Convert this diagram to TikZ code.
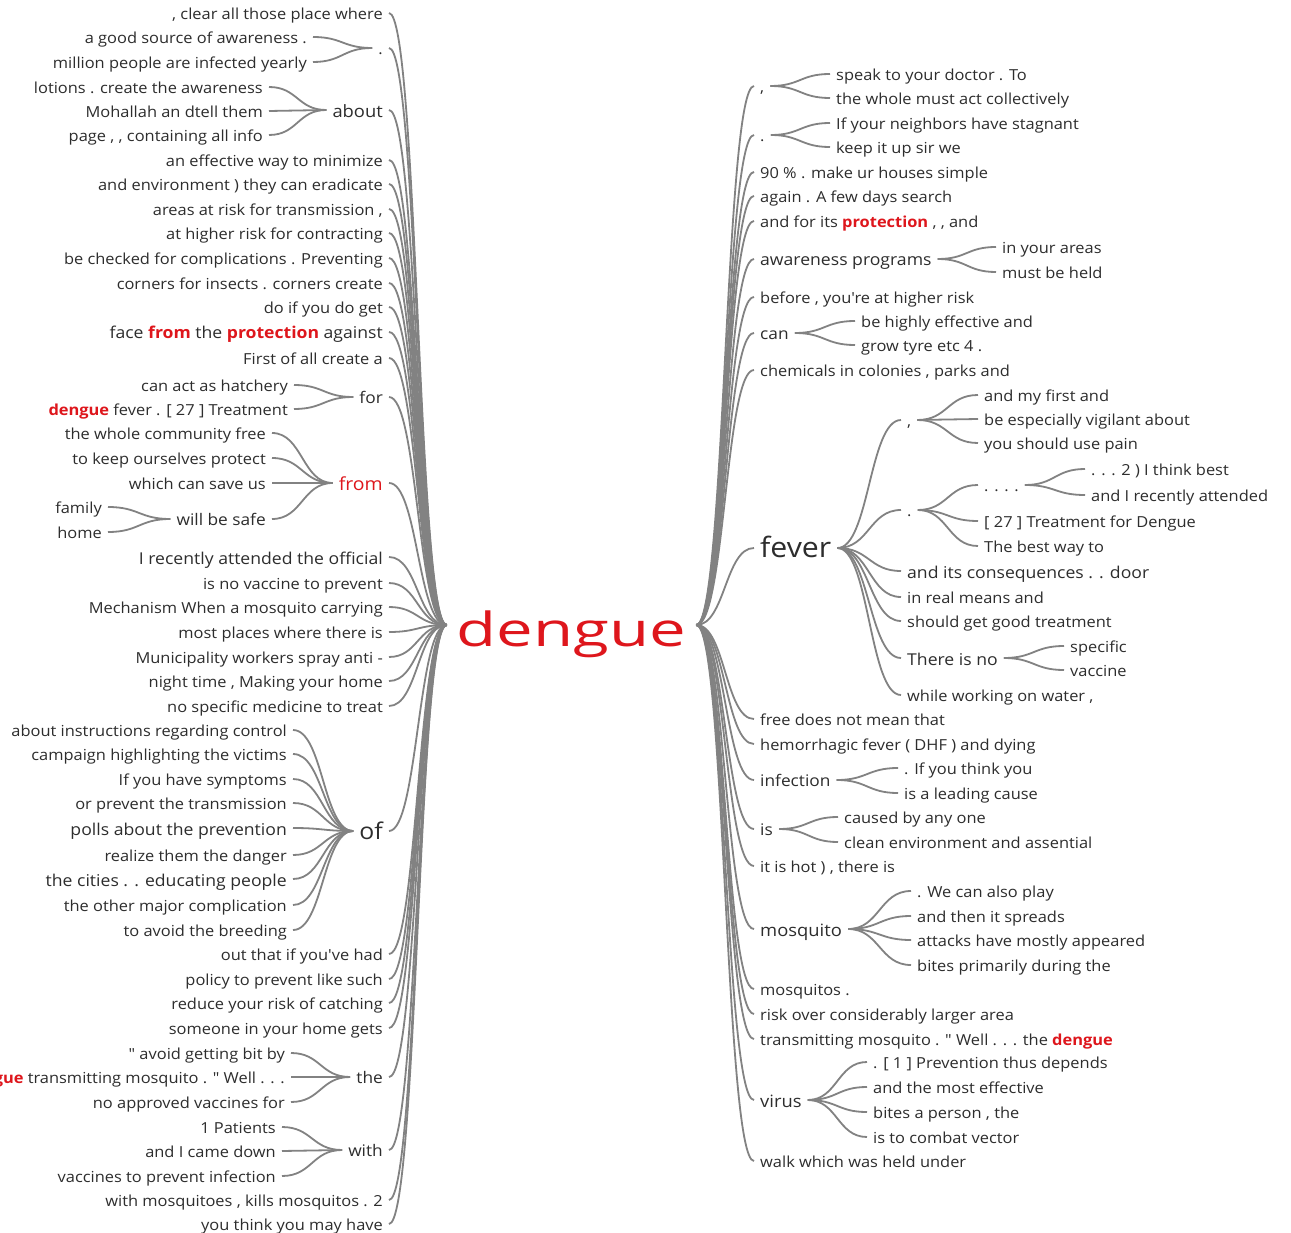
\documentclass[tikz,border=0pt]{standalone}
\usepackage{fontspec}
\usepackage{graphicx}
\usetikzlibrary{calc}
\newfontfamily\wtf{Open Sans}[FakeStretch=1.08]
\newfontfamily\wtd{Open Sans}
\definecolor{tc}{RGB}{45,45,45}
\definecolor{hr}{RGB}{222,22,28}
\definecolor{lc}{RGB}{130,130,130}
\newcommand\rb[1]{\textbf{\color{hr}#1}}
\tikzset{
  wt0/.style={text=tc, inner xsep=6pt, inner ysep=0pt, font=\wtf\fontsize{15.2}{18}\selectfont, text height=13.5pt, text depth=0pt},
  wtb/.style={wt0, font=\wtf\fontsize{16.3}{19}\selectfont, text height=14pt, text depth=0pt},
  wt16/.style={wt0, font=\wtf\fontsize{16}{19}\selectfont, text height=13.9pt, text depth=0pt},
  wt17/.style={wt0, font=\wtf\fontsize{17}{20}\selectfont, text height=14.4pt, text depth=0pt},
  wt18/.style={wt0, font=\wtf\fontsize{18}{21}\selectfont, text height=14.9pt, text depth=0pt},
  wt23/.style={wt0, font=\wtf\fontsize{23}{26}\selectfont, text height=17.3pt, text depth=0pt},
  wt28/.style={wt0, font=\wtf\fontsize{28}{31}\selectfont, text height=19.8pt, text depth=0pt},
  wl/.style={anchor=east},
  wr/.style={anchor=west},
  conn/.style={draw=lc, line width=1.8pt},
  wt/.style={to path={let \p1=(\tikztostart), \p2=(\tikztotarget) in .. controls ({0.5*\x1+0.5*\x2},\y1) and ({0.5*\x1+0.5*\x2},\y2) .. (\tikztotarget)}},
}
\begin{document}
\begin{tikzpicture}[x=1pt,y=-1pt]
\useasboundingbox (0,0) rectangle (1291,1233);
\clip (0,0) rectangle (1291,1233);
\fill[white] (0,0) rectangle (1291,1233);

% root
\node[text=hr, inner xsep=10pt, inner ysep=0pt, text height=52pt, text depth=10pt, anchor=base, font=\wtd\fontsize{47}{50}\selectfont] (dg) at (571.5,646) {\scalebox{1.39}[1]{dengue}};

% ---------------- left side ----------------
\node[wt0,wl] (l1) at (389,13) {, clear all those place where};
\node[wt0,wl] (l2) at (389,48) {.};
\node[wt0,wl] (l2a) at (313,37) {a good source of awareness .};
\node[wt0,wl] (l2b) at (313,62) {million people are infected yearly};
\node[wt17,wl] (l3) at (389,110) {about};
\node[wt0,wl] (l3a) at (269,87) {lotions . create the awareness};
\node[wt0,wl] (l3b) at (269,111) {Mohallah an dtell them};
\node[wt0,wl] (l3c) at (269,135) {page , , containing all info};
\node[wt0,wl] (l4) at (389,160) {an effective way to minimize};
\node[wt0,wl] (l5) at (389,184) {and environment ) they can eradicate};
\node[wt0,wl] (l6) at (389,209) {areas at risk for transmission ,};
\node[wt0,wl] (l7) at (389,233) {at higher risk for contracting};
\node[wt0,wl] (l8) at (389,258) {be checked for complications . Preventing};
\node[wt0,wl] (l9) at (389,283) {corners for insects . corners create};
\node[wt0,wl] (l10) at (389,307) {do if you do get};
\node[wtb,wl] (l11) at (389,332) {face \rb{from} the \rb{protection} against};
\node[wt0,wl] (l12) at (389,358) {First of all create a};
\node[wt16,wl] (l13) at (389,397) {for};
\node[wt0,wl] (l13a) at (294,385) {can act as hatchery};
\node[wt0,wl] (l13b) at (294,409) {\rb{dengue} fever . [ 27 ] Treatment};
\node[wt18,wl,text=hr] (l14) at (389,483) {from};
\node[wt0,wl] (l14a) at (272,433) {the whole community free};
\node[wt0,wl] (l14b) at (272,458) {to keep ourselves protect};
\node[wt0,wl] (l14c) at (272,483) {which can save us};
\node[wt16,wl] (l14d) at (272,519) {will be safe};
\node[wt0,wl] (l14d1) at (108,507) {family};
\node[wt0,wl] (l14d2) at (108,532) {home};
\node[wtb,wl] (l15) at (389,557) {I recently attended the official};
\node[wt0,wl] (l16) at (389,583) {is no vaccine to prevent};
\node[wt0,wl] (l17) at (389,607) {Mechanism When a mosquito carrying};
\node[wt0,wl] (l18) at (389,632) {most places where there is};
\node[wt0,wl] (l19) at (389,657) {Municipality workers spray anti -};
\node[wt0,wl] (l20) at (389,681) {night time , Making your home};
\node[wt0,wl] (l21) at (389,706) {no specific medicine to treat};
\node[wt23,wl] (l22) at (389,831) {of};
\node[wt0,wl] (l22a) at (293,730) {about instructions regarding control};
\node[wt0,wl] (l22b) at (293,754) {campaign highlighting the victims};
\node[wt0,wl] (l22c) at (293,779) {If you have symptoms};
\node[wt0,wl] (l22d) at (293,803) {or prevent the transmission};
\node[wtb,wl] (l22e) at (293,828) {polls about the prevention};
\node[wt0,wl] (l22f) at (293,855) {realize them the danger};
\node[wtb,wl] (l22g) at (293,879) {the cities . . educating people};
\node[wt0,wl] (l22h) at (293,905) {the other major complication};
\node[wt0,wl] (l22i) at (293,930) {to avoid the breeding};
\node[wt0,wl] (l23) at (389,954) {out that if you've had};
\node[wt0,wl] (l24) at (389,979) {policy to prevent like such};
\node[wt0,wl] (l25) at (389,1003) {reduce your risk of catching};
\node[wt0,wl] (l26) at (389,1028) {someone in your home gets};
\node[wt16,wl] (l27) at (389,1077) {the};
\node[wt0,wl] (l27a) at (291,1053) {" avoid getting bit by};
\node[wt0,wl] (l27b) at (291,1077) {\rb{dengue} transmitting mosquito . " Well . . .};
\node[wt0,wl] (l27c) at (291,1102) {no approved vaccines for};
\node[wt16,wl] (l28) at (389,1150) {with};
\node[wt0,wl] (l28a) at (282,1127) {1 Patients};
\node[wt0,wl] (l28b) at (282,1151) {and I came down};
\node[wt0,wl] (l28c) at (282,1176) {vaccines to prevent infection};
\node[wt0,wl] (l29) at (389,1200) {with mosquitoes , kills mosquitos . 2};
\node[wt0,wl] (l30) at (389,1224) {you think you may have};

\foreach \k in {l1,l2,l3,l4,l5,l6,l7,l8,l9,l10,l11,l12,l13,l14,l15,l16,l17,l18,l19,l20,l21,l22,l23,l24,l25,l26,l27,l28,l29,l30}
  \draw[conn] (\k.east) to[wt] (dg.west);
\foreach \k in {l2a,l2b} \draw[conn] (\k.east) to[wt] (l2.west);
\foreach \k in {l3a,l3b,l3c} \draw[conn] (\k.east) to[wt] (l3.west);
\foreach \k in {l13a,l13b} \draw[conn] (\k.east) to[wt] (l13.west);
\foreach \k in {l14a,l14b,l14c,l14d} \draw[conn] (\k.east) to[wt] (l14.west);
\foreach \k in {l14d1,l14d2} \draw[conn] (\k.east) to[wt] (l14d.west);
\foreach \k in {l22a,l22b,l22c,l22d,l22e,l22f,l22g,l22h,l22i} \draw[conn] (\k.east) to[wt] (l22.west);
\foreach \k in {l27a,l27b,l27c} \draw[conn] (\k.east) to[wt] (l27.west);
\foreach \k in {l28a,l28b,l28c} \draw[conn] (\k.east) to[wt] (l28.west);

% ---------------- right side ----------------
\node[wt0,wr] (r1) at (754,86) {,};
\node[wt0,wr] (r1a) at (830,74) {speak to your doctor . To};
\node[wt0,wr] (r1b) at (830,98) {the whole must act collectively};
\node[wt0,wr] (r2) at (754,135) {.};
\node[wt0,wr] (r2a) at (830,123) {If your neighbors have stagnant};
\node[wt0,wr] (r2b) at (830,147) {keep it up sir we};
\node[wt0,wr] (r3) at (754,172) {90 \% . make ur houses simple};
\node[wt0,wr] (r4) at (754,196) {again . A few days search};
\node[wt0,wr] (r5) at (754,221) {and for its \rb{protection} , , and};
\node[wtb,wr] (r6) at (754,259) {awareness programs};
\node[wt0,wr] (r6a) at (996,247) {in your areas};
\node[wt0,wr] (r6b) at (996,272) {must be held};
\node[wt0,wr] (r7) at (754,297) {before , you're at higher risk};
\node[wt16,wr] (r8) at (754,333) {can};
\node[wt0,wr] (r8a) at (855,321) {be highly effective and};
\node[wt0,wr] (r8b) at (855,345) {grow tyre etc 4 .};
\node[wt0,wr] (r9) at (754,370) {chemicals in colonies , parks and};
\node[wt28,wr] (r10) at (754,548) {fever};
\node[wt0,wr] (r10a) at (901,420) {,};
\node[wt0,wr] (r10a1) at (978,395) {and my first and};
\node[wt0,wr] (r10a2) at (978,419) {be especially vigilant about};
\node[wt0,wr] (r10a3) at (978,443) {you should use pain};
\node[wt0,wr] (r10b) at (901,510) {.};
\node[wt0,wr] (r10b1) at (978,485) {. . . .};
\node[wt0,wr] (r10b1a) at (1085,469) {. . . 2 ) I think best};
\node[wt0,wr] (r10b1b) at (1085,495) {and I recently attended};
\node[wt0,wr] (r10b2) at (978,521) {[ 27 ] Treatment for Dengue};
\node[wt0,wr] (r10b3) at (978,546) {The best way to};
\node[wtb,wr] (r10c) at (901,571) {and its consequences . . door};
\node[wt0,wr] (r10d) at (901,597) {in real means and};
\node[wt0,wr] (r10e) at (901,621) {should get good treatment};
\node[wtb,wr] (r10f) at (901,658) {There is no};
\node[wt0,wr] (r10f1) at (1064,646) {specific};
\node[wt0,wr] (r10f2) at (1064,670) {vaccine};
\node[wt0,wr] (r10g) at (901,695) {while working on water ,};
\node[wt0,wr] (r11) at (754,719) {free does not mean that};
\node[wt0,wr] (r12) at (754,744) {hemorrhagic fever ( DHF ) and dying};
\node[wt16,wr] (r13) at (754,780) {infection};
\node[wt0,wr] (r13a) at (898,768) {. If you think you};
\node[wt0,wr] (r13b) at (898,793) {is a leading cause};
\node[wt16,wr] (r14) at (754,829) {is};
\node[wt0,wr] (r14a) at (838,817) {caused by any one};
\node[wt0,wr] (r14b) at (838,842) {clean environment and assential};
\node[wt0,wr] (r15) at (754,866) {it is hot ) , there is};
\node[wt17,wr] (r16) at (754,929) {mosquito};
\node[wt0,wr] (r16a) at (911,891) {. We can also play};
\node[wt0,wr] (r16b) at (911,916) {and then it spreads};
\node[wt0,wr] (r16c) at (911,940) {attacks have mostly appeared};
\node[wt0,wr] (r16d) at (911,965) {bites primarily during the};
\node[wt0,wr] (r17) at (754,989) {mosquitos .};
\node[wt0,wr] (r18) at (754,1014) {risk over considerably larger area};
\node[wt0,wr] (r19) at (754,1039) {transmitting mosquito . " Well . . . the \rb{dengue}};
\node[wt17,wr] (r20) at (754,1100) {virus};
\node[wt0,wr] (r20a) at (867,1062) {. [ 1 ] Prevention thus depends};
\node[wt0,wr] (r20b) at (867,1087) {and the most effective};
\node[wt0,wr] (r20c) at (867,1112) {bites a person , the};
\node[wt0,wr] (r20d) at (867,1137) {is to combat vector};
\node[wt0,wr] (r21) at (754,1161) {walk which was held under};

\foreach \k in {r1,r2,r3,r4,r5,r6,r7,r8,r9,r10,r11,r12,r13,r14,r15,r16,r17,r18,r19,r20,r21}
  \draw[conn] (dg.east) to[wt] (\k.west);
\foreach \k in {r1a,r1b} \draw[conn] (r1.east) to[wt] (\k.west);
\foreach \k in {r2a,r2b} \draw[conn] (r2.east) to[wt] (\k.west);
\foreach \k in {r6a,r6b} \draw[conn] (r6.east) to[wt] (\k.west);
\foreach \k in {r8a,r8b} \draw[conn] (r8.east) to[wt] (\k.west);
\foreach \k in {r10a,r10b,r10c,r10d,r10e,r10f,r10g} \draw[conn] (r10.east) to[wt] (\k.west);
\foreach \k in {r10a1,r10a2,r10a3} \draw[conn] (r10a.east) to[wt] (\k.west);
\foreach \k in {r10b1,r10b2,r10b3} \draw[conn] (r10b.east) to[wt] (\k.west);
\foreach \k in {r10b1a,r10b1b} \draw[conn] (r10b1.east) to[wt] (\k.west);
\foreach \k in {r10f1,r10f2} \draw[conn] (r10f.east) to[wt] (\k.west);
\foreach \k in {r13a,r13b} \draw[conn] (r13.east) to[wt] (\k.west);
\foreach \k in {r14a,r14b} \draw[conn] (r14.east) to[wt] (\k.west);
\foreach \k in {r16a,r16b,r16c,r16d} \draw[conn] (r16.east) to[wt] (\k.west);
\foreach \k in {r20a,r20b,r20c,r20d} \draw[conn] (r20.east) to[wt] (\k.west);
\end{tikzpicture}
\end{document}
